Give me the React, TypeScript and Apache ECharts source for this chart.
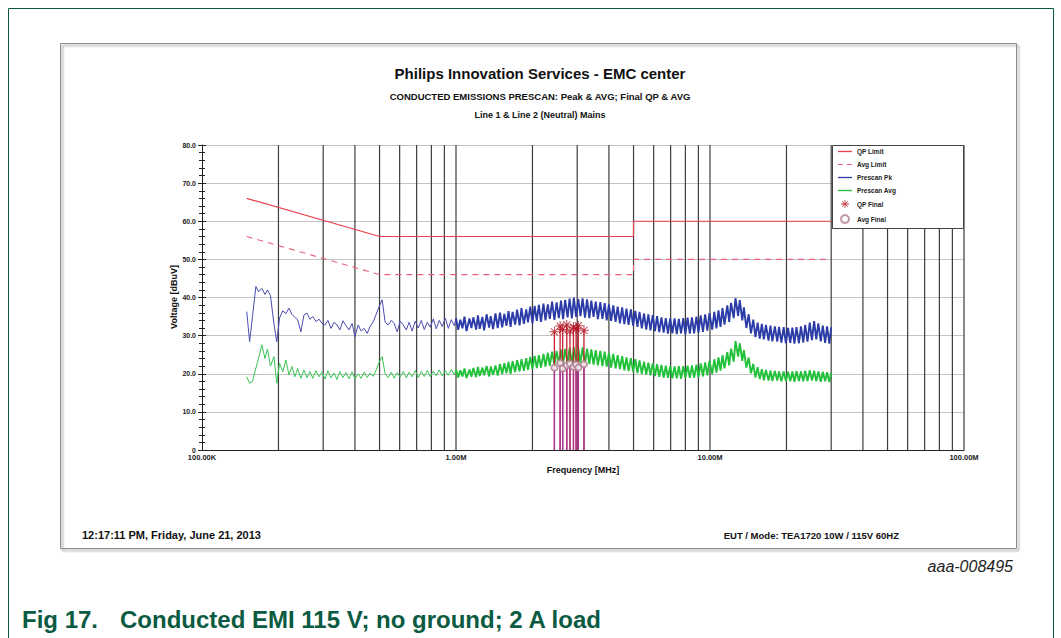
import React, { useEffect, useRef } from "react";
import * as echarts from "echarts";

// ---------- data (frequencies in MHz, levels in dBuV) ----------
const FREQ_LF = [
  0.150, 0.154, 0.158, 0.163, 0.167, 0.172, 0.177, 0.181, 0.186, 0.192,
  0.197, 0.202, 0.208, 0.214, 0.220, 0.226, 0.232, 0.238, 0.245, 0.252,
  0.259, 0.266, 0.273, 0.281, 0.289, 0.297, 0.305, 0.313, 0.322, 0.331,
  0.340, 0.349, 0.359, 0.369, 0.379, 0.390, 0.400, 0.412, 0.423, 0.435,
  0.447, 0.459, 0.472, 0.485, 0.498, 0.512, 0.526, 0.541, 0.556, 0.571,
  0.587, 0.603, 0.620, 0.637, 0.654, 0.672, 0.691, 0.710, 0.730, 0.750,
  0.771, 0.792, 0.814, 0.836, 0.859, 0.883, 0.908, 0.933, 0.958, 0.985,
];
const FREQ_HF = [
  1.00, 1.02, 1.04, 1.06, 1.08, 1.10, 1.13, 1.15, 1.17, 1.20,
  1.22, 1.24, 1.27, 1.29, 1.32, 1.35, 1.37, 1.40, 1.43, 1.46,
  1.49, 1.52, 1.55, 1.58, 1.61, 1.64, 1.67, 1.71, 1.74, 1.78,
  1.81, 1.85, 1.89, 1.92, 1.96, 2.00, 2.04, 2.08, 2.12, 2.16,
  2.21, 2.25, 2.30, 2.34, 2.39, 2.44, 2.49, 2.54, 2.59, 2.64,
  2.69, 2.75, 2.80, 2.86, 2.91, 2.97, 3.03, 3.09, 3.15, 3.22,
  3.28, 3.35, 3.41, 3.48, 3.55, 3.62, 3.70, 3.77, 3.85, 3.92,
  4.00, 4.08, 4.16, 4.25, 4.33, 4.42, 4.51, 4.60, 4.69, 4.78,
  4.88, 4.98, 5.08, 5.18, 5.28, 5.39, 5.50, 5.61, 5.72, 5.83,
  5.95, 6.07, 6.19, 6.31, 6.44, 6.57, 6.70, 6.83, 6.97, 7.11,
  7.25, 7.40, 7.54, 7.69, 7.85, 8.00, 8.16, 8.33, 8.49, 8.66,
  8.84, 9.01, 9.19, 9.38, 9.57, 9.76, 9.95, 10.2, 10.4, 10.6,
  10.8, 11.0, 11.2, 11.4, 11.7, 11.9, 12.1, 12.4, 12.6, 12.9,
  13.1, 13.4, 13.6, 13.9, 14.2, 14.5, 14.8, 15.1, 15.4, 15.7,
  16.0, 16.3, 16.6, 17.0, 17.3, 17.6, 18.0, 18.4, 18.7, 19.1,
  19.5, 19.9, 20.3, 20.7, 21.1, 21.5, 21.9, 22.4, 22.8, 23.3,
  23.7, 24.2, 24.7, 25.2, 25.7, 26.2, 26.7, 27.3, 27.8, 28.4,
  28.9, 29.5, 30.0,
];

const PK_LF = [
  36.3, 28.4, 35.0, 42.9, 41.5, 42.4, 40.8, 42.0, 40.5, 33.0,
  28.4, 34.6, 36.5, 35.8, 37.2, 35.6, 34.8, 34.2, 31.0, 35.4,
  35.9, 34.3, 35.0, 33.7, 34.3, 33.2, 32.8, 34.0, 31.9, 33.5,
  32.8, 31.5, 33.9, 32.6, 31.5, 33.2, 29.7, 32.8, 31.2, 31.9,
  30.6, 32.4, 33.6, 35.6, 37.6, 39.4, 33.5, 32.8, 34.0, 33.2,
  31.0, 33.8, 32.8, 31.5, 33.5, 31.2, 33.8, 32.0, 34.0, 31.6,
  33.5, 32.2, 34.4, 31.8, 34.0, 32.4, 34.6, 31.9, 34.2, 32.6,
];
const PK_HF = [
  34.6, 31.5, 34.2, 31.9, 35.0, 31.2, 34.5, 32.0, 34.8, 31.6,
  35.3, 31.8, 34.9, 31.4, 35.6, 32.1, 35.1, 31.7, 35.8, 32.0,
  36.0, 32.2, 35.7, 32.6, 36.4, 32.3, 36.2, 32.9, 36.8, 32.7,
  37.2, 33.1, 36.9, 33.5, 37.6, 33.2, 37.8, 33.9, 38.1, 33.6,
  38.4, 34.0, 38.2, 34.4, 38.9, 34.1, 38.7, 34.6, 39.2, 34.3,
  39.4, 34.8, 39.7, 34.5, 40.0, 34.9, 39.6, 35.1, 39.8, 34.7,
  39.5, 34.6, 39.2, 34.9, 38.9, 34.3, 38.8, 34.4, 38.5, 34.0,
  38.2, 33.9, 37.9, 33.6, 37.6, 33.2, 37.4, 33.0, 37.1, 32.8,
  36.9, 32.6, 36.5, 32.3, 36.2, 31.9, 35.8, 31.6, 35.6, 31.4,
  35.4, 31.2, 35.1, 30.9, 34.8, 30.8, 34.6, 30.5, 34.5, 30.6,
  34.5, 30.4, 34.4, 30.6, 34.6, 30.3, 34.7, 30.5, 34.8, 30.6,
  35.0, 30.8, 35.3, 31.0, 35.6, 31.3, 35.9, 31.6, 36.2, 31.9,
  36.6, 32.3, 37.2, 32.9, 37.9, 33.6, 38.6, 34.6, 39.8, 35.2,
  39.3, 34.0, 37.4, 32.0, 35.6, 30.6, 34.2, 29.6, 33.4, 29.2,
  33.1, 29.0, 32.8, 28.7, 32.6, 28.5, 32.4, 28.4, 32.3, 28.2,
  32.2, 28.0, 32.0, 28.1, 32.1, 27.9, 32.2, 28.0, 32.4, 28.2,
  32.8, 28.4, 33.4, 28.8, 33.8, 29.0, 33.2, 28.5, 32.6, 28.1,
  32.4, 27.9, 32.2,
];

const AVG_LF = [
  19.2, 17.5, 18.0, 21.5, 24.0, 27.6, 24.0, 26.5, 22.0, 24.5,
  17.5, 22.8, 20.5, 23.6, 19.7, 21.9, 19.2, 21.4, 18.8, 21.0,
  19.0, 20.6, 18.8, 20.8, 19.2, 20.5, 18.6, 20.8, 18.9, 20.2,
  18.5, 20.6, 19.0, 20.3, 18.7, 20.5, 18.6, 20.0, 18.8, 20.4,
  19.0, 20.2, 19.3, 21.0, 23.0, 24.5, 20.0, 19.0, 20.4, 18.8,
  20.3, 19.1, 20.6, 18.9, 20.4, 19.2, 20.8, 19.0, 20.6, 19.3,
  20.9, 19.2, 20.7, 19.5, 21.0, 19.4, 20.8, 19.6, 21.1, 19.7,
];
const AVG_HF = [
  21.2, 19.0, 20.9, 19.3, 21.4, 18.9, 21.1, 19.2, 21.5, 19.1,
  21.8, 19.4, 21.6, 19.6, 22.0, 19.3, 21.9, 19.7, 22.2, 19.5,
  22.6, 19.9, 22.8, 20.1, 23.1, 20.0, 23.3, 20.4, 23.6, 20.6,
  23.8, 20.8, 24.1, 21.0, 24.4, 21.3, 24.7, 21.5, 24.9, 21.6,
  25.2, 21.9, 25.5, 22.1, 25.8, 22.3, 26.0, 22.5, 26.3, 22.6,
  26.5, 22.7, 26.8, 22.6, 27.0, 22.9, 26.7, 22.8, 26.9, 22.6,
  26.6, 22.5, 26.4, 22.4, 26.2, 22.2, 26.0, 22.0, 25.8, 21.9,
  25.5, 21.6, 25.2, 21.4, 24.9, 21.2, 24.6, 20.9, 24.3, 20.7,
  24.1, 20.5, 23.8, 20.2, 23.5, 20.0, 23.2, 19.8, 22.9, 19.6,
  22.7, 19.4, 22.5, 19.2, 22.3, 19.0, 22.1, 18.9, 22.0, 18.8,
  21.9, 18.8, 22.0, 18.7, 22.0, 18.9, 22.1, 18.9, 22.2, 19.0,
  22.4, 19.1, 22.7, 19.3, 23.0, 19.6, 23.4, 19.9, 23.8, 20.3,
  24.3, 20.8, 24.9, 21.4, 25.7, 22.2, 26.6, 23.2, 28.6, 24.5,
  28.0, 23.4, 26.2, 21.6, 24.2, 20.1, 22.6, 19.0, 21.7, 18.6,
  21.2, 18.3, 21.0, 18.2, 20.8, 18.1, 20.7, 18.2, 20.6, 18.0,
  20.6, 18.1, 20.5, 18.0, 20.6, 17.9, 20.7, 18.1, 20.6, 18.0,
  20.8, 18.1, 20.9, 18.2, 20.8, 18.0, 20.6, 17.9, 20.5, 18.0,
  20.4, 17.8, 20.3,
];

const LIMIT_FREQ = [0.15, 0.5, 5, 5, 30];
const QP_LIMIT = [66, 56, 56, 60, 60];
const AVG_LIMIT = [56, 46, 46, 50, 50];

const FINAL_FREQ = [2.44, 2.57, 2.63, 2.73, 2.81, 2.90, 2.97, 3.03, 3.19];
const QP_FINAL = [31.0, 32.5, 31.6, 32.8, 31.2, 32.2, 31.8, 32.6, 31.4];
const AVG_FINAL = [21.6, 22.8, 21.4, 22.2, 22.6, 21.8, 22.4, 21.6, 22.5];

const GRID_FREQS = [
  0.2, 0.3, 0.4, 0.5, 0.6, 0.7, 0.8, 0.9, 1,
  2, 3, 4, 5, 6, 7, 8, 9, 10,
  20, 30, 40, 50, 60, 70, 80, 90, 100,
];
const X_TICK_LABELS = ["100.00K", "1.00M", "10.00M", "100.00M"];
const Y_TICK_LABELS = ["0", "10.0", "20.0", "30.0", "40.0", "50.0", "60.0", "70.0", "80.0"];

// ---------- styling ----------
const FONT = '"Liberation Sans", Arial, sans-serif';
const C_QP = "#e8404f";
const C_AVGL = "#e8607a";
const C_PK = "#2b3ca8";
const C_PK_LF = "#4a4cae";
const C_AVG = "#22c13a";
const C_AVG_LF = "#3cc455";
const C_QPF = "#b2121e";
const C_AVGF = "#b08090";
const C_STEM_AVG = "#a8359a";
const C_NXP = "#0b5a42";

const ASTERISK =
  "path://M0 9H20V11H0Z M9 0H11V20H9Z M2.2 3.6L3.6 2.2L17.8 16.4L16.4 17.8Z M16.4 2.2L17.8 3.6L3.6 17.8L2.2 16.4Z";
const ICON_LINE = "path://M0 0H14V1.3H0Z";
const ICON_DASH = "path://M0 0H5V1.2H0Z M9 0H14V1.2H9Z";

const LF_PAIRS = FREQ_LF.map((f, i) => [f, PK_LF[i]]);
const HF_PAIRS = FREQ_HF.map((f, i) => [f, PK_HF[i]]);
const LF_AVG_PAIRS = FREQ_LF.map((f, i) => [f, AVG_LF[i]]);
const HF_AVG_PAIRS = FREQ_HF.map((f, i) => [f, AVG_HF[i]]);

function txt(
  text: string,
  x: number,
  y: number,
  size: number,
  opts: { align?: string; weight?: string; style?: string; color?: string; rotation?: number } = {}
) {
  const align = opts.align || "left";
  return {
    type: "text",
    x,
    y,
    rotation: opts.rotation || 0,
    silent: true,
    style: {
      text,
      fontSize: size,
      fontWeight: opts.weight || "bold",
      fontStyle: opts.style || "normal",
      fontFamily: FONT,
      fill: opts.color || "#111",
      align,
      textAlign: align,
      verticalAlign: "middle",
      textVerticalAlign: "middle",
    },
  };
}

function stemSeries(name: string, values: number[], color: string, z: number) {
  return {
    type: "custom",
    name,
    z,
    silent: true,
    encode: { x: 0, y: 1 },
    data: FINAL_FREQ.map((f, i) => [f, values[i]]),
    renderItem: (_p: any, api: any) => {
      const top = api.coord([api.value(0), api.value(1)]);
      const bot = api.coord([api.value(0), 0]);
      return {
        type: "line",
        shape: { x1: top[0], y1: top[1], x2: bot[0], y2: bot[1] },
        style: { stroke: color, lineWidth: 1.3 },
      };
    },
  };
}

export default function App() {
  const ref = useRef<HTMLDivElement>(null);

  useEffect(() => {
    if (!ref.current) return;
    const chart = echarts.init(ref.current, null, { renderer: "svg" });

    const option: any = {
      animation: false,
      backgroundColor: "#ffffff",
      textStyle: { fontFamily: FONT },
      grid: { left: 202, top: 145, width: 762, height: 305, containLabel: false },
      xAxis: {
        type: "log",
        logBase: 10,
        min: 0.1,
        max: 100,
        name: "Frequency [MHz]",
        nameLocation: "middle",
        nameGap: 15,
        nameTextStyle: { fontSize: 9, fontWeight: "bold", color: "#111", fontFamily: FONT },
        axisLine: { lineStyle: { color: "#222", width: 1 } },
        axisTick: { show: false },
        splitLine: { show: false },
        axisLabel: {
          margin: 3,
          fontSize: 7.5,
          fontWeight: "bold",
          color: "#222",
          fontFamily: FONT,
          showMinLabel: true,
          showMaxLabel: true,
          formatter: (v: number) => X_TICK_LABELS[Math.round(Math.log10(v)) + 1] ?? "",
        },
      },
      yAxis: [
        {
          type: "value",
          min: 0,
          max: 80,
          interval: 10,
          axisLine: { show: true, lineStyle: { color: "#222", width: 1 } },
          axisTick: { show: true, length: 4, lineStyle: { color: "#222" } },
          minorTick: { show: true, splitNumber: 5, length: 3, lineStyle: { color: "#222" } },
          splitLine: { show: true, lineStyle: { color: "#c4c4c4", width: 1 } },
          axisLabel: {
            margin: 6,
            fontSize: 7,
            fontWeight: "bold",
            color: "#222",
            fontFamily: FONT,
            formatter: (v: number) => Y_TICK_LABELS[Math.round(v / 10)] ?? "",
          },
        },
        {
          type: "value",
          min: 0,
          max: 80,
          interval: 10,
          position: "left",
          offset: 0,
          axisLine: { show: false },
          axisTick: { show: true, inside: true, length: 4, lineStyle: { color: "#222" } },
          minorTick: { show: true, splitNumber: 5, length: 3, lineStyle: { color: "#222" } },
          splitLine: { show: false },
          axisLabel: { show: false },
        },
      ],
      legend: {
        orient: "vertical",
        left: 838,
        top: 148,
        z: 12,
        padding: 0,
        itemWidth: 14,
        itemHeight: 8,
        itemGap: 6,
        selectedMode: false,
        textStyle: { fontSize: 6.5, fontWeight: "bold", color: "#222", fontFamily: FONT },
        data: [
          { name: "QP Limit", icon: ICON_LINE },
          { name: "Avg Limit", icon: ICON_DASH },
          { name: "Prescan Pk", icon: ICON_LINE },
          { name: "Prescan Avg", icon: ICON_LINE },
          { name: "QP Final" },
          { name: "Avg Final" },
        ],
      },
      series: [
        {
          type: "custom",
          name: "grid",
          z: 1,
          silent: true,
          encode: { x: 0, y: 1 },
          data: GRID_FREQS.map((f) => [f, 80]),
          renderItem: (_p: any, api: any) => {
            const top = api.coord([api.value(0), 80]);
            const bot = api.coord([api.value(0), 0]);
            return {
              type: "line",
              shape: { x1: top[0], y1: top[1], x2: bot[0], y2: bot[1] },
              style: { stroke: "#3c3c3c", lineWidth: 1.2 },
            };
          },
        },
        {
          type: "line",
          name: "QP Limit",
          z: 3,
          symbol: "none",
          color: C_QP,
          lineStyle: { color: C_QP, width: 1.2 },
          data: LIMIT_FREQ.map((f, i) => [f, QP_LIMIT[i]]),
        },
        {
          type: "line",
          name: "Avg Limit",
          z: 3,
          symbol: "none",
          color: C_AVGL,
          lineStyle: { color: C_AVGL, width: 1.1, type: [6, 5] },
          data: LIMIT_FREQ.map((f, i) => [f, AVG_LIMIT[i]]),
        },
        {
          type: "line",
          name: "Prescan Pk",
          z: 3,
          symbol: "none",
          color: C_PK,
          lineStyle: { color: C_PK_LF, width: 1 },
          data: [...LF_PAIRS, HF_PAIRS[0]],
        },
        {
          type: "line",
          name: "Prescan Pk",
          z: 3,
          symbol: "none",
          color: C_PK,
          lineStyle: { color: C_PK, width: 1.9 },
          data: HF_PAIRS,
        },
        {
          type: "line",
          name: "Prescan Avg",
          z: 3,
          symbol: "none",
          color: C_AVG,
          lineStyle: { color: C_AVG_LF, width: 1 },
          data: [...LF_AVG_PAIRS, HF_AVG_PAIRS[0]],
        },
        {
          type: "line",
          name: "Prescan Avg",
          z: 3,
          symbol: "none",
          color: C_AVG,
          lineStyle: { color: C_AVG, width: 1.9 },
          data: HF_AVG_PAIRS,
        },
        stemSeries("qpStems", QP_FINAL, "#c81e2c", 4),
        stemSeries("avgStems", AVG_FINAL, C_STEM_AVG, 5),
        {
          type: "scatter",
          name: "QP Final",
          z: 6,
          symbol: ASTERISK,
          symbolSize: 10,
          itemStyle: { color: C_QPF },
          data: FINAL_FREQ.map((f, i) => [f, QP_FINAL[i]]),
        },
        {
          type: "scatter",
          name: "Avg Final",
          z: 7,
          symbol: "emptyCircle",
          symbolSize: 6,
          itemStyle: { color: C_AVGF, borderWidth: 1 },
          data: FINAL_FREQ.map((f, i) => [f, AVG_FINAL[i]]),
        },
      ],
      graphic: {
        elements: [
          // page frame
          { type: "line", silent: true, shape: { x1: 8.5, y1: 8.5, x2: 1053.5, y2: 8.5 }, style: { stroke: C_NXP, lineWidth: 1 } },
          { type: "line", silent: true, shape: { x1: 8.5, y1: 8.5, x2: 8.5, y2: 640 }, style: { stroke: C_NXP, lineWidth: 1 } },
          { type: "line", silent: true, shape: { x1: 1053.5, y1: 8.5, x2: 1053.5, y2: 640 }, style: { stroke: C_NXP, lineWidth: 1 } },
          // chart frame
          {
            type: "rect",
            silent: true,
            shape: { x: 60.5, y: 43.5, width: 956, height: 505 },
            style: {
              fill: "none",
              stroke: "#8c8c8c",
              lineWidth: 1,
              shadowBlur: 2,
              shadowOffsetX: 2,
              shadowOffsetY: 2,
              shadowColor: "rgba(0,0,0,0.45)",
            },
          },
          // legend box
          {
            type: "rect",
            silent: true,
            z: 10,
            shape: { x: 832.5, y: 145.5, width: 131, height: 83 },
            style: { fill: "#ffffff", stroke: "#444444", lineWidth: 1 },
          },
          txt("Voltage [dBuV]", 174, 297, 9, { align: "center", rotation: Math.PI / 2 }),
          txt("Philips Innovation Services - EMC center", 540, 73, 15, { align: "center" }),
          txt("CONDUCTED EMISSIONS PRESCAN: Peak & AVG; Final QP & AVG", 540, 96, 9.5, { align: "center" }),
          txt("Line 1 & Line 2 (Neutral) Mains", 540, 115, 9, { align: "center" }),
          txt("12:17:11 PM, Friday, June 21, 2013", 82, 535, 11),
          txt("EUT / Mode: TEA1720 10W / 115V 60HZ", 899, 535, 9.5, { align: "right" }),
          txt("aaa-008495", 1013, 566, 16, { align: "right", weight: "normal", style: "italic", color: "#222" }),
          txt("Fig 17.", 22, 619, 24, { color: C_NXP }),
          txt("Conducted EMI 115 V; no ground; 2 A load", 120, 619, 24, { color: C_NXP }),
        ],
      },
    };

    chart.setOption(option);
    return () => chart.dispose();
  }, []);

  return (
    <div
      ref={ref}
      style={{ position: "absolute", left: 0, top: 0, width: 1061, height: 638, background: "#ffffff" }}
    />
  );
}
